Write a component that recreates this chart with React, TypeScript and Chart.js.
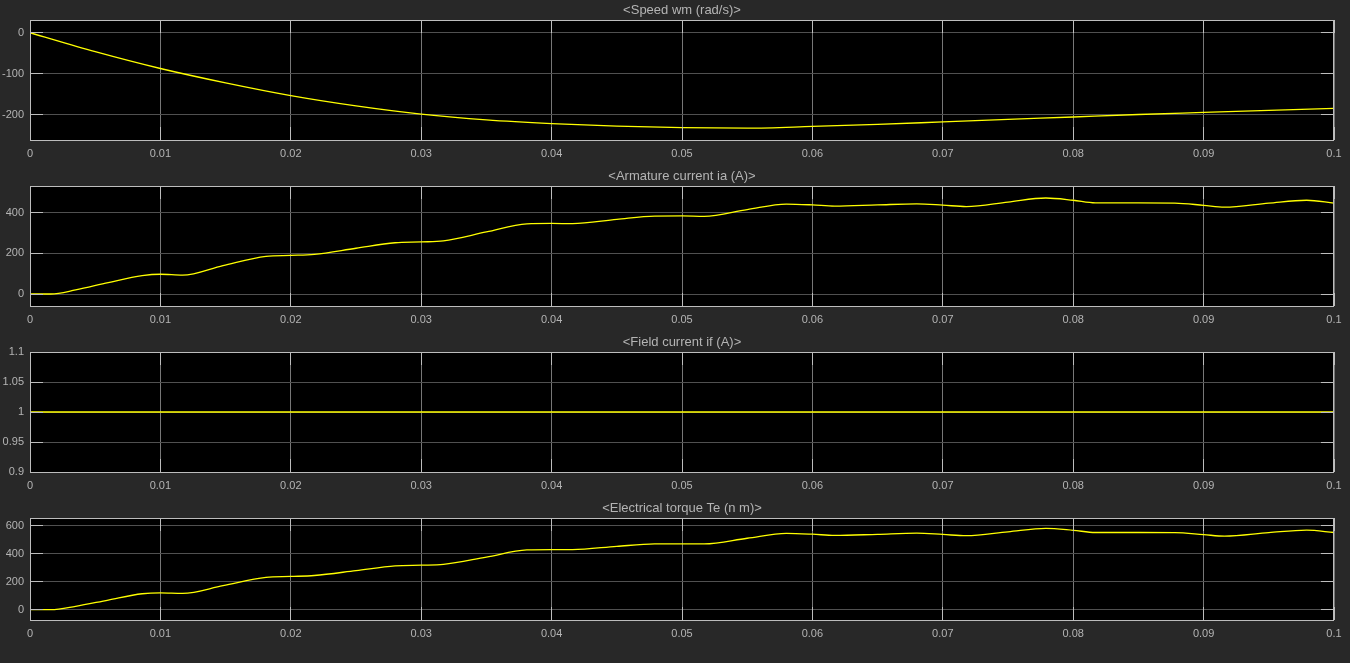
import React, { useEffect, useRef } from "react";
import { Chart, registerables } from "chart.js";

Chart.register(...registerables);

// ---------- data ----------
const xTickValues = [0, 0.01, 0.02, 0.03, 0.04, 0.05, 0.06, 0.07, 0.08, 0.09, 0.1];
const xTickLabels = ["0", "0.01", "0.02", "0.03", "0.04", "0.05", "0.06", "0.07", "0.08", "0.09", "0.1"];

const speedTime = [0, 0.005, 0.01, 0.015, 0.02, 0.025, 0.03, 0.035, 0.04, 0.045, 0.05, 0.055, 0.06, 0.065, 0.07, 0.075, 0.08, 0.085, 0.09, 0.095, 0.1];
const speedValues = [0, -46, -87, -122, -153, -178, -198, -212, -221, -227, -231, -232, -228, -223, -217, -211, -205, -199, -194, -189, -184];
const speedTicks = [0, -100, -200];
const speedTickLabels = ["0", "-100", "-200"];

const currentTime = [0, 0.0016, 0.0035, 0.006, 0.0086, 0.01, 0.0117, 0.0148, 0.0181, 0.02, 0.0218, 0.025, 0.028, 0.03, 0.0317, 0.035, 0.0381, 0.04, 0.0416, 0.045, 0.0479, 0.05, 0.0517, 0.055, 0.058, 0.06, 0.0617, 0.065, 0.068, 0.07, 0.0718, 0.075, 0.0779, 0.08, 0.0817, 0.085, 0.0878, 0.09, 0.0916, 0.095, 0.0979, 0.1];
const armatureValues = [0, 0, 20, 56, 90, 97, 93, 140, 185, 190, 195, 225, 252, 256, 261, 305, 345, 347, 346, 367, 383, 384, 382, 415, 442, 438, 432, 438, 443, 437, 430, 452, 472, 461, 448, 448, 447, 436, 427, 447, 461, 447];
const armatureTicks = [0, 200, 400];
const armatureTickLabels = ["0", "200", "400"];

const fieldTime = [0, 0.1];
const fieldValues = [1, 1];
const fieldTicks = [0.9, 0.95, 1, 1.05, 1.1];
const fieldTickLabels = ["0.9", "0.95", "1", "1.05", "1.1"];

const torqueValues = [0, 0, 24, 69, 114, 121, 117, 172, 231, 238, 245, 280, 314, 319, 324, 377, 428, 431, 431, 454, 471, 472, 471, 512, 547, 541, 532, 540, 548, 539, 530, 558, 583, 569, 553, 553, 552, 538, 527, 552, 570, 553];
const torqueTicks = [0, 200, 400, 600];
const torqueTickLabels = ["0", "200", "400", "600"];

const titles = [
  "<Speed wm (rad/s)>",
  "<Armature current ia (A)>",
  "<Field current if (A)>",
  "<Electrical torque Te (n m)>",
];

// ---------- panels ----------
type Panel = {
  title: string;
  t: number[];
  v: number[];
  yMin: number;
  yMax: number;
  yTicks: number[];
  yLabels: string[];
  top: number;
  height: number;
};

const panels: Panel[] = [
  { title: titles[0], t: speedTime, v: speedValues, yMin: -261, yMax: 31, yTicks: speedTicks, yLabels: speedTickLabels, top: 0, height: 166 },
  { title: titles[1], t: currentTime, v: armatureValues, yMin: -59, yMax: 531, yTicks: armatureTicks, yLabels: armatureTickLabels, top: 166, height: 166 },
  { title: titles[2], t: fieldTime, v: fieldValues, yMin: 0.9, yMax: 1.1, yTicks: fieldTicks, yLabels: fieldTickLabels, top: 332, height: 166 },
  { title: titles[3], t: currentTime, v: torqueValues, yMin: -74, yMax: 657, yTicks: torqueTicks, yLabels: torqueTickLabels, top: 498, height: 148 },
];

const W = 1350;
const BG = "#282828";
const FRAME = "#bdbdbd";
const TEXT = "#b4b4b4";
const FONT = "'Liberation Sans', Arial, sans-serif";

const align = (p: number) => Math.round(p - 0.5) + 0.5;

const framePlugin = {
  id: "scopeFrame",
  beforeDraw(chart: any) {
    const ctx = chart.ctx;
    const { left, right, top, bottom } = chart.chartArea;
    ctx.save();
    ctx.fillStyle = BG;
    ctx.fillRect(0, 0, chart.width, chart.height);
    ctx.fillStyle = "#000000";
    ctx.fillRect(left, top, right - left, bottom - top);
    ctx.restore();
  },
  afterDraw(chart: any) {
    const ctx = chart.ctx;
    const { left, right, top, bottom } = chart.chartArea;
    const xs = chart.scales.x;
    const ys = chart.scales.y;
    const tl = 13;
    ctx.save();
    ctx.strokeStyle = FRAME;
    ctx.lineWidth = 1;
    ctx.beginPath();
    ys.ticks.forEach((tk: any) => {
      const y = align(ys.getPixelForValue(tk.value));
      ctx.moveTo(left, y);
      ctx.lineTo(left + tl, y);
      ctx.moveTo(right - tl, y);
      ctx.lineTo(right, y);
    });
    xs.ticks.forEach((tk: any) => {
      const x = align(xs.getPixelForValue(tk.value));
      ctx.moveTo(x, bottom);
      ctx.lineTo(x, bottom - tl);
      ctx.moveTo(x, top);
      ctx.lineTo(x, top + tl);
    });
    ctx.stroke();
    ctx.strokeRect(left + 0.5, top + 0.5, right - left - 1, bottom - top);
    const title = chart.options.plugins.scopeFrame.title;
    ctx.fillStyle = TEXT;
    ctx.font = `13px ${FONT}`;
    ctx.textAlign = "center";
    ctx.textBaseline = "middle";
    ctx.fillText(title, (left + right) / 2, top - 10);
    ctx.restore();
  },
};

function ScopePanel({ p }: { p: Panel }) {
  const ref = useRef<HTMLCanvasElement>(null);
  useEffect(() => {
    if (!ref.current) return;
    const chart = new Chart(ref.current, {
      type: "line",
      data: {
        datasets: [
          {
            data: p.t.map((t, i) => ({ x: t, y: p.v[i] })),
            borderColor: "#ffff00",
            borderWidth: 1.3,
            pointRadius: 0,
            cubicInterpolationMode: "monotone",
            fill: false,
          },
        ],
      },
      options: {
        animation: false,
        responsive: false,
        maintainAspectRatio: false,
        layout: { padding: { top: 20, right: 16, left: 0, bottom: 0 } },
        plugins: {
          legend: { display: false },
          tooltip: { enabled: false },
          title: { display: false },
          scopeFrame: { title: p.title },
        } as any,
        scales: {
          x: {
            type: "linear",
            min: 0,
            max: 0.1,
            afterBuildTicks: (s: any) => {
              s.ticks = xTickValues.map((v) => ({ value: v }));
            },
            afterFit: (s: any) => {
              s.height = 26;
            },
            ticks: {
              color: TEXT,
              font: { family: FONT, size: 11 },
              padding: 7,
              maxRotation: 0,
              autoSkip: false,
              callback: (_v: any, i: number) => xTickLabels[i],
            },
            grid: { color: "#777777", drawTicks: false, lineWidth: 1 },
            border: { display: false },
          },
          y: {
            type: "linear",
            min: p.yMin,
            max: p.yMax,
            afterBuildTicks: (s: any) => {
              s.ticks = p.yTicks.map((v) => ({ value: v }));
            },
            afterFit: (s: any) => {
              s.width = 30;
            },
            ticks: {
              color: TEXT,
              font: { family: FONT, size: 11 },
              padding: 6,
              autoSkip: false,
              callback: (_v: any, i: number) => p.yLabels[i],
            },
            grid: { color: "#505050", drawTicks: false, lineWidth: 1 },
            border: { display: false },
          },
        },
      },
      plugins: [framePlugin],
    } as any);
    return () => chart.destroy();
  }, [p]);
  return (
    <canvas
      ref={ref}
      width={W}
      height={p.height}
      style={{ position: "absolute", left: 0, top: p.top, width: W, height: p.height }}
    />
  );
}

export default function App() {
  return (
    <div
      style={{
        position: "fixed",
        left: 0,
        top: 0,
        width: W,
        height: 663,
        background: BG,
        overflow: "hidden",
      }}
    >
      {panels.map((p, i) => (
        <ScopePanel key={i} p={p} />
      ))}
    </div>
  );
}
